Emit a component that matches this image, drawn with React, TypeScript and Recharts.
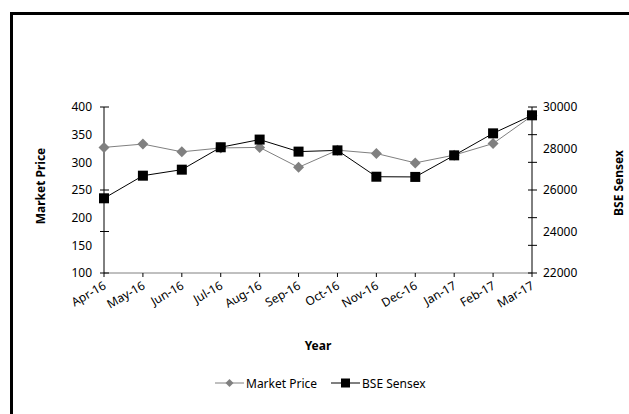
import React from 'react';
import { LineChart, Line, XAxis, YAxis } from 'recharts';

const months = ['Apr-16', 'May-16', 'Jun-16', 'Jul-16', 'Aug-16', 'Sep-16', 'Oct-16', 'Nov-16', 'Dec-16', 'Jan-17', 'Feb-17', 'Mar-17'];
const marketPrice = [327, 333, 319, 326, 327, 291, 322, 316, 299, 313, 334, 384];
const bseSensex = [25600, 26690, 26980, 28060, 28430, 27850, 27910, 26640, 26630, 27670, 28730, 29600];

// labels and tick marks don't line up in the original, so keep them apart
const priceLabels = [100, 150, 200, 250, 300, 350, 400];
const priceMarks = [100, 175, 250, 400];
const sensexLabels = [22000, 24000, 26000, 28000, 30000];
const sensexMarks = [22000, 23333, 24667, 26000, 27333, 28667, 30000];

const data = months.map((m, i) => ({ month: m, price: marketPrice[i], sensex: bseSensex[i] }));

const font = '"Noto Sans", sans-serif';
const TICK_SIZE = 5;
const LEFT_MARGIN = 7;
const RIGHT_MARGIN = 6;

const Diamond = (props: any) => {
    const { cx, cy } = props;
    if (cx == null || cy == null) return null;
    const r = 5.5;
    return <polygon points={`${cx},${cy - r} ${cx + r},${cy} ${cx},${cy + r} ${cx - r},${cy}`} fill="#808080" />;
};

const Square = (props: any) => {
    const { cx, cy } = props;
    if (cx == null || cy == null) return null;
    return <rect x={cx - 5} y={cy - 5} width={10} height={10} fill="#000" />;
};

const MonthTick = (props: any) => {
    const { x, y, payload } = props;
    return (
        <text
            x={x + 3}
            y={y + 9}
            textAnchor="end"
            fontSize={12}
            fontFamily={font}
            fill="#000"
            transform={`rotate(-30, ${x + 3}, ${y + 9})`}
        >
            {payload.value}
        </text>
    );
};

const LeftTick = (props: any) => {
    const { x, y, payload } = props;
    const ax = x + TICK_SIZE + LEFT_MARGIN;
    return (
        <g>
            {priceMarks.includes(payload.value) && <line x1={ax - 4} x2={ax + 5} y1={y} y2={y} stroke="#000" />}
            {priceLabels.includes(payload.value) && (
                <text x={x} y={y} dy="0.355em" textAnchor="end" fontSize={12} fontFamily={font} fill="#000">
                    {payload.value}
                </text>
            )}
        </g>
    );
};

const RightTick = (props: any) => {
    const { x, y, payload } = props;
    const ax = x - TICK_SIZE - RIGHT_MARGIN;
    return (
        <g>
            {sensexMarks.includes(payload.value) && <line x1={ax - 4} x2={ax + 5} y1={y} y2={y} stroke="#000" />}
            {sensexLabels.includes(payload.value) && (
                <text x={x} y={y} dy="0.355em" textAnchor="start" fontSize={12} fontFamily={font} fill="#000">
                    {payload.value}
                </text>
            )}
        </g>
    );
};

const uniq = (a: number[], b: number[]) => Array.from(new Set([...a, ...b])).sort((p, q) => p - q);

export default function App() {
    return (
        <div style={{ position: 'relative', width: 629, height: 414, overflow: 'hidden', fontFamily: font }}>
            <style>{'body{margin:0;overflow:hidden}'}</style>
            <div style={{ position: 'absolute', left: 10, top: 12, width: 660, height: 450, border: '3px solid #000' }} />
            <div style={{ position: 'absolute', left: 0, top: 0 }}>
                <LineChart width={629} height={414} data={data} margin={{ top: 107, right: 0, bottom: 0, left: 0 }}>
                    <XAxis
                        dataKey="month"
                        height={141}
                        stroke="#808080"
                        tickLine={{ stroke: '#000' }}
                        tickSize={4}
                        interval={0}
                        tick={<MonthTick />}
                    />
                    <YAxis
                        yAxisId="left"
                        width={104}
                        domain={[100, 400]}
                        ticks={uniq(priceLabels, priceMarks)}
                        interval={0}
                        stroke="#000"
                        tickLine={false}
                        tickSize={TICK_SIZE}
                        tickMargin={LEFT_MARGIN}
                        tick={<LeftTick />}
                    />
                    <YAxis
                        yAxisId="right"
                        orientation="right"
                        width={97}
                        domain={[22000, 30000]}
                        ticks={uniq(sensexLabels, sensexMarks)}
                        interval={0}
                        stroke="#000"
                        tickLine={false}
                        tickSize={TICK_SIZE}
                        tickMargin={RIGHT_MARGIN}
                        tick={<RightTick />}
                    />
                    <Line yAxisId="left" dataKey="price" stroke="#808080" strokeWidth={1} dot={<Diamond />} activeDot={false} isAnimationActive={false} />
                    <Line yAxisId="right" dataKey="sensex" stroke="#000" strokeWidth={1} dot={<Square />} activeDot={false} isAnimationActive={false} />
                </LineChart>
            </div>
            <div style={{ position: 'absolute', left: 40, top: 186, transform: 'translate(-50%, -50%) rotate(-90deg)', fontSize: 12, fontWeight: 'bold', whiteSpace: 'nowrap' }}>
                Market Price
            </div>
            <div style={{ position: 'absolute', left: 618, top: 183, transform: 'translate(-50%, -50%) rotate(-90deg)', fontSize: 12, fontWeight: 'bold', whiteSpace: 'nowrap' }}>
                BSE Sensex
            </div>
            <div style={{ position: 'absolute', left: 318, top: 345, transform: 'translate(-50%, -50%)', fontSize: 12, fontWeight: 'bold' }}>
                Year
            </div>
            <div style={{ position: 'absolute', left: 215, top: 375, display: 'flex', alignItems: 'center', fontSize: 12, height: 16 }}>
                <svg width={29} height={12}>
                    <line x1={0} y1={6} x2={29} y2={6} stroke="#808080" strokeWidth={1} />
                    <polygon points="14.5,2 18.5,6 14.5,10 10.5,6" fill="#808080" />
                </svg>
                <span style={{ marginLeft: 2 }}>Market Price</span>
                <svg width={29} height={12} style={{ marginLeft: 14 }}>
                    <line x1={0} y1={6} x2={29} y2={6} stroke="#000" strokeWidth={1} />
                    <rect x={10} y={1.5} width={9} height={9} fill="#000" />
                </svg>
                <span style={{ marginLeft: 2 }}>BSE Sensex</span>
            </div>
        </div>
    );
}
